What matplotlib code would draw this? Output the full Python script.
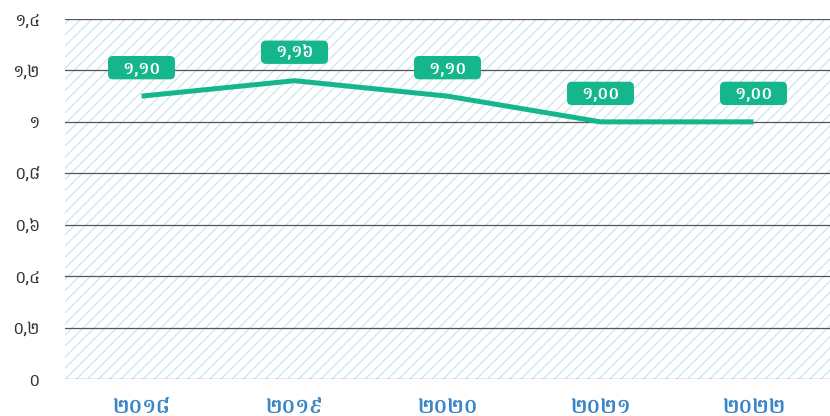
import matplotlib
matplotlib.use("Agg")
import matplotlib.pyplot as plt

# data
years = ['២០១៨', '២០១៩', '២០២០', '២០២១', '២០២២']
values = [1.10, 1.16, 1.10, 1.00, 1.00]
value_labels = ['១,១០', '១,១៦', '១,១០', '១,០០', '១,០០']
y_ticks = [0, 0.2, 0.4, 0.6, 0.8, 1.0, 1.2, 1.4]
y_tick_labels = ['០', '០,២', '០,៤', '០,៦', '០,៨', '១', '១,២', '១,៤']

LINE_COLOR = '#15b68b'
TICK_BLUE = '#3a86c6'

plt.rcParams['font.family'] = ['Battambang', 'DejaVu Sans']
plt.rcParams['hatch.linewidth'] = 0.8

fig = plt.figure(figsize=(8.3, 4.16), dpi=100)
ax = fig.add_axes([65 / 830, 1 - 379 / 416, 765 / 830, 360 / 416])

# hatched background
ax.patch.set_facecolor('white')
ax.patch.set_edgecolor('#c2e3ef')
ax.patch.set_hatch('///')
ax.patch.set_linewidth(0)

x = list(range(len(years)))
ax.plot(x, values, color=LINE_COLOR, lw=3.6, solid_capstyle='butt', zorder=3)

for xi, v, lab in zip(x, values, value_labels):
    # spaces widen the label box
    ax.annotate('  ' + lab + '  ', (xi, v), xytext=(0, 20.5), textcoords='offset points',
                ha='center', va='center', color='white', fontsize=12,
                fontweight='bold',
                bbox=dict(boxstyle='round,pad=0.22,rounding_size=0.3',
                          fc=LINE_COLOR, ec='none'),
                zorder=4)

ax.set_xlim(-0.5, len(years) - 0.5)
ax.set_ylim(0, 1.4)
ax.set_yticks(y_ticks)
ax.set_yticklabels(y_tick_labels)
ax.set_xticks(x)
ax.set_xticklabels(years)

for yt in y_ticks:
    ax.axhline(yt, color='#555555', lw=0.9, zorder=2)

for s in ax.spines.values():
    s.set_visible(False)

ax.tick_params(axis='y', length=0, pad=18, labelsize=12.5, labelcolor='#333333')
ax.tick_params(axis='x', length=0, pad=13, labelsize=15, labelcolor=TICK_BLUE)
for t in ax.get_xticklabels():
    t.set_fontweight('bold')

fig.savefig('out.png', dpi=100)
